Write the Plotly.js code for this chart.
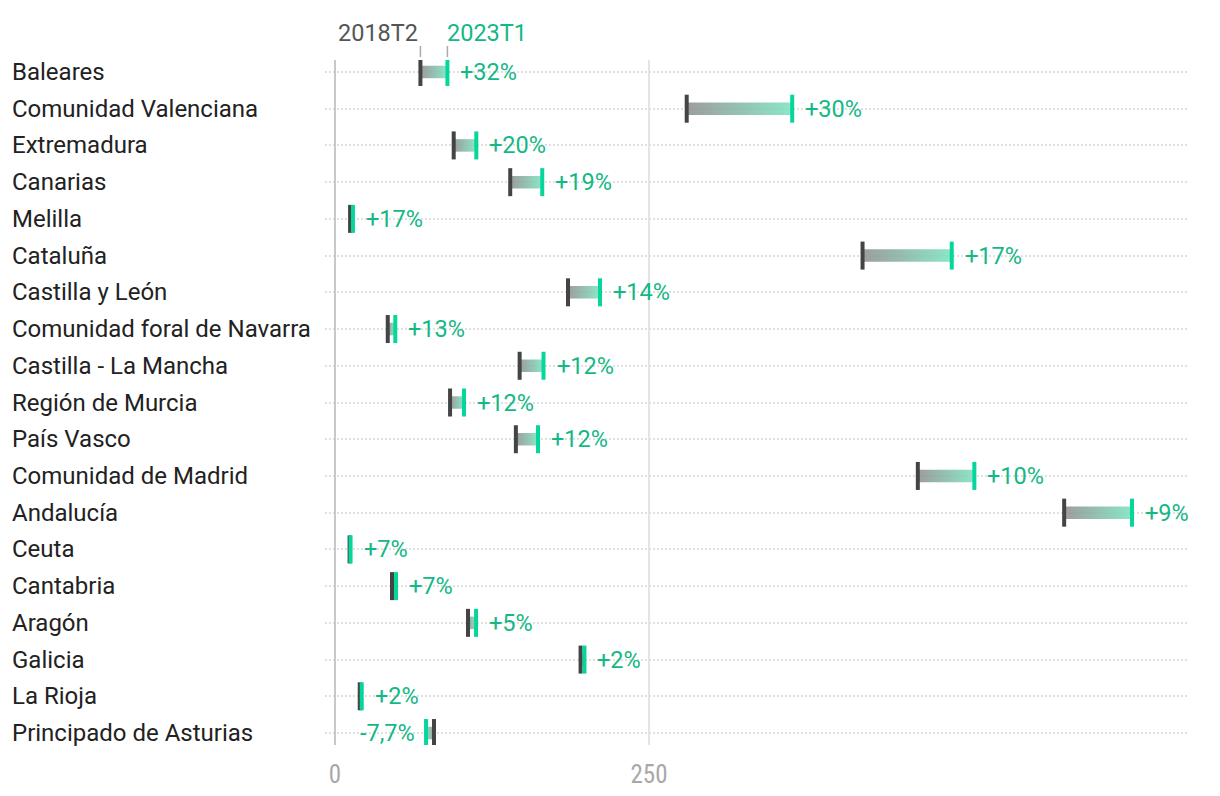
<!DOCTYPE html>
<html lang="es">
<head>
    <meta charset="UTF-8">
    <title>2018T2 - 2023T1</title>
    <script src="https://cdn.plot.ly/plotly-3.0.1.min.js"></script>
    <style>
        body {
            margin: 0;
            background: white;
        }
        #plot {
            width: 1220px;
            height: 796px;
        }
    </style>
</head>
<body>
    <div id="plot"></div>
    <script>
        const regions = [
            'Baleares', 'Comunidad Valenciana', 'Extremadura', 'Canarias', 'Melilla',
            'Cataluña', 'Castilla y León', 'Comunidad foral de Navarra', 'Castilla - La Mancha',
            'Región de Murcia', 'País Vasco', 'Comunidad de Madrid', 'Andalucía', 'Ceuta',
            'Cantabria', 'Aragón', 'Galicia', 'La Rioja', 'Principado de Asturias'
        ];
        const values2018T2 = [68, 280, 94.5, 139.5, 12, 420, 185.5, 42, 147, 91.6, 144, 464, 580.5, 11.6, 45.4, 105.9, 195.5, 19.7, 78.8];
        const values2023T1 = [89.5, 364, 112.5, 165, 14.3, 491, 211, 48, 166, 102.7, 161.6, 509, 634.5, 12.4, 48.6, 112.3, 198.6, 21.3, 72.5];
        const changeLabels = ['+32%', '+30%', '+20%', '+19%', '+17%', '+17%', '+14%', '+13%', '+12%',
            '+12%', '+12%', '+10%', '+9%', '+7%', '+7%', '+5%', '+2%', '+2%', '-7,7%'];
        const periodLabels = ['2018T2', '2023T1'];
        const xTicks = [0, 250];

        const GREY = '#444444';
        const GREEN = '#05d69c';
        const TEXT_GREEN = '#14b886';
        const FONT = 'Roboto, "Noto Sans", sans-serif';
        const FONT_SIZE = 23.5;
        const barHalf = 0.17;

        const rows = regions.map((r, i) => i);
        const traces = [];

        // gradient bars, one trace each so the gradient fits its own bar
        rows.forEach(i => {
            const s = values2018T2[i], e = values2023T1[i];
            traces.push({
                x: [s, e, e, s, s],
                y: [i - barHalf, i - barHalf, i + barHalf, i + barHalf, i - barHalf],
                type: 'scatter',
                mode: 'lines',
                line: { width: 0 },
                fill: 'toself',
                fillgradient: {
                    type: 'horizontal',
                    start: s,
                    stop: e,
                    colorscale: [[0, 'rgba(140,140,140,0.85)'], [1, 'rgba(120,226,190,0.85)']]
                },
                hoverinfo: 'skip',
                showlegend: false
            });
        });

        traces.push({
            x: values2018T2,
            y: rows,
            type: 'scatter',
            mode: 'markers',
            marker: { symbol: 'line-ns', size: 20, line: { width: 4, color: GREY } },
            hoverinfo: 'skip',
            showlegend: false
        });
        traces.push({
            x: values2023T1,
            y: rows,
            type: 'scatter',
            mode: 'markers',
            marker: { symbol: 'line-ns', size: 20, line: { width: 4, color: GREEN } },
            hoverinfo: 'skip',
            showlegend: false
        });

        const annotations = [];
        regions.forEach((r, i) => {
            annotations.push({
                text: r, xref: 'paper', yref: 'y', x: -0.3654, y: i,
                xanchor: 'left', yanchor: 'middle', showarrow: false,
                font: { family: FONT, size: 24, color: '#222222' }
            });
            const up = values2023T1[i] >= values2018T2[i];
            annotations.push({
                text: changeLabels[i], xref: 'x', yref: 'y',
                x: up ? values2023T1[i] : Math.min(values2023T1[i], values2018T2[i]),
                y: i,
                xanchor: up ? 'left' : 'right', yanchor: 'middle',
                xshift: up ? 11 : -9,
                showarrow: false,
                font: { family: FONT, size: FONT_SIZE, color: TEXT_GREEN }
            });
        });
        // period header above the first row
        annotations.push({
            text: periodLabels[0], xref: 'x', yref: 'paper', x: values2018T2[0], y: 1.0394,
            xanchor: 'right', yanchor: 'middle', xshift: 0, showarrow: false,
            font: { family: FONT, size: FONT_SIZE, color: '#555555' }
        });
        annotations.push({
            text: periodLabels[1], xref: 'x', yref: 'paper', x: values2023T1[0], y: 1.0394,
            xanchor: 'left', yanchor: 'middle', xshift: -2, showarrow: false,
            font: { family: FONT, size: FONT_SIZE, color: TEXT_GREEN }
        });

        const shapes = [values2018T2[0], values2023T1[0]].map(v => ({
            type: 'line', xref: 'x', yref: 'paper', x0: v, x1: v, y0: 1.0044, y1: 1.0204,
            line: { color: '#aaaaaa', width: 1.5 }
        }));

        const layout = {
            width: 1220,
            height: 796,
            margin: { l: 325, r: 33, t: 60, b: 51 },
            paper_bgcolor: 'white',
            plot_bgcolor: 'white',
            showlegend: false,
            xaxis: {
                range: [-7.96, 678.3],
                tickvals: xTicks,
                ticktext: xTicks.map(String),
                showgrid: true,
                gridcolor: '#e4e4e4',
                gridwidth: 2,
                zeroline: true,
                zerolinecolor: '#c8c8c8',
                zerolinewidth: 2,
                showline: false,
                ticks: '',
                ticklabelstandoff: 12,
                tickfont: { family: '"Roboto Condensed", "Liberation Sans Narrow", Roboto, sans-serif', size: 25, color: '#a8a8a8' }
            },
            yaxis: {
                range: [18.326, -0.326],
                tickvals: rows,
                showticklabels: false,
                showgrid: true,
                gridcolor: '#e0e0e0',
                gridwidth: 2,
                griddash: '2px,2px',
                zeroline: false,
                showline: false,
                ticks: ''
            },
            annotations: annotations,
            shapes: shapes
        };

        Plotly.newPlot('plot', traces, layout, { displayModeBar: false, staticPlot: true });
    </script>
</body>
</html>
